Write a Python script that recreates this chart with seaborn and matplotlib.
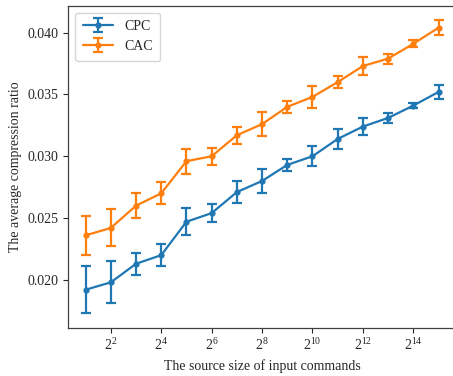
import numpy as np
import pandas as pd
import seaborn as sns
import matplotlib
matplotlib.use("Agg")
import matplotlib.pyplot as plt
from matplotlib.ticker import LogFormatterSciNotation, FixedLocator, NullLocator

# Input sizes are powers of two, 2^1 .. 2^15
exponents = list(range(1, 16))

cpc_mean = [0.0192, 0.0198, 0.0213, 0.0220, 0.0247, 0.0254, 0.0271, 0.0280,
            0.0293, 0.0300, 0.0314, 0.0324, 0.0331, 0.0341, 0.0352]
cpc_err = [0.0019, 0.0017, 0.0009, 0.0009, 0.0011, 0.0007, 0.0009, 0.0010,
           0.0005, 0.0008, 0.0008, 0.0007, 0.0004, 0.0002, 0.0006]

cac_mean = [0.0236, 0.0242, 0.0260, 0.0270, 0.0296, 0.0300, 0.0317, 0.0326,
            0.0340, 0.0348, 0.0360, 0.0373, 0.0379, 0.0391, 0.0404]
cac_err = [0.0016, 0.0015, 0.0010, 0.0009, 0.0010, 0.0007, 0.0007, 0.0010,
           0.0005, 0.0009, 0.0005, 0.0007, 0.0004, 0.0003, 0.0006]

series_names = ["CPC", "CAC"]
xtick_exponents = [2, 4, 6, 8, 10, 12, 14]

sns.set_theme(style="ticks")
plt.rcParams["font.family"] = ["Liberation Serif", "DejaVu Serif"]
plt.rcParams["mathtext.fontset"] = "stix"
plt.rcParams["font.size"] = 10

sizes = [2 ** e for e in exponents]
df = pd.concat([
    pd.DataFrame({"size": sizes, "ratio": cpc_mean, "err": cpc_err, "method": "CPC"}),
    pd.DataFrame({"size": sizes, "ratio": cac_mean, "err": cac_err, "method": "CAC"}),
])

palette = dict(zip(series_names, sns.color_palette("tab10", 2)))

fig = plt.figure(figsize=(4.53, 3.76), dpi=100)
ax = fig.add_axes([0.150, 0.128, 0.857, 0.857])

sns.lineplot(data=df, x="size", y="ratio", hue="method", palette=palette,
             marker="o", markersize=4.5, markeredgewidth=0, linewidth=1.6,
             legend=False, ax=ax)

handles = []
for name, line in zip(series_names, ax.get_lines()):
    sub = df[df["method"] == name]
    eb = ax.errorbar(sub["size"], sub["ratio"], yerr=sub["err"], fmt="none",
                     ecolor=palette[name], elinewidth=1.6, capsize=3.3,
                     capthick=1.6)
    handles.append((line, eb))

ax.set_xscale("log", base=2)
ax.xaxis.set_major_locator(FixedLocator([2 ** e for e in xtick_exponents]))
ax.xaxis.set_major_formatter(LogFormatterSciNotation(base=2))
ax.xaxis.set_minor_locator(NullLocator())

ax.set_xlabel("The source size of input commands", fontsize=10)
ax.set_ylabel("The average compression ratio", fontsize=10)
ax.tick_params(labelsize=10, length=3.5, width=0.8)
for sp in ax.spines.values():
    sp.set_linewidth(0.9)
    sp.set_color("0.25")

ax.legend(handles, series_names, loc="upper left", fontsize=10,
          frameon=True, fancybox=True, handlelength=2.2, borderpad=0.55)

fig.savefig("out.png", dpi=100)
